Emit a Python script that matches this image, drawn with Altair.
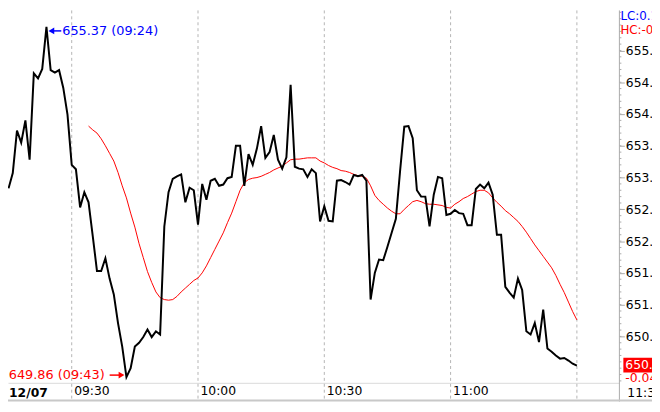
import altair as alt
import pandas as pd

# ---------------- data ----------------
# 1-minute closes from 09:15 to 11:30 on 12/07
price = [652.83, 653.07, 653.74, 653.55, 653.90, 653.28, 654.64, 654.56, 654.71, 655.37,
         654.69, 654.65, 654.69, 654.41, 653.99, 653.20, 653.13, 652.53, 652.77, 652.61,
         652.08, 651.53, 651.53, 651.73, 651.41, 651.16, 650.71, 650.34, 649.86, 650.00,
         650.34, 650.40, 650.49, 650.61, 650.49, 650.58, 650.53, 652.23, 652.77, 652.98,
         653.02, 653.05, 652.61, 652.84, 652.80, 652.26, 652.90, 652.65, 652.95, 652.98,
         652.87, 652.89, 652.99, 653.01, 653.50, 653.50, 652.87, 653.37, 653.20, 653.46,
         653.81, 653.31, 653.40, 653.67, 653.28, 653.14, 653.32, 654.46, 653.17, 653.14,
         653.13, 653.01, 653.13, 653.07, 652.31, 652.55, 652.32, 652.31, 652.95, 652.96,
         652.93, 652.89, 653.04, 653.02, 653.04, 652.95, 651.08, 651.50, 651.71, 651.70,
         651.91, 652.13, 652.35, 653.10, 653.80, 653.81, 653.62, 652.80, 652.70, 652.70,
         652.23, 652.73, 653.01, 652.99, 652.41, 652.43, 652.49, 652.44, 652.43, 652.25,
         652.25, 652.82, 652.89, 652.83, 652.92, 652.73, 652.10, 652.10, 651.28, 651.19,
         651.11, 651.41, 651.23, 650.58, 650.53, 650.71, 650.41, 650.92, 650.31, 650.26,
         650.20, 650.15, 650.16, 650.12, 650.07, 650.04]
price_start = "2023-12-07 09:15"

# red moving-average line, 09:34 to 11:30
ma = [653.81, 653.75, 653.70, 653.61, 653.50, 653.38, 653.26, 653.08, 652.87, 652.68,
      652.44, 652.22, 651.96, 651.74, 651.52, 651.35, 651.20, 651.11, 651.08, 651.07,
      651.08, 651.13, 651.20, 651.26, 651.32, 651.38, 651.42, 651.50, 651.61, 651.74,
      651.87, 652.00, 652.13, 652.29, 652.44, 652.62, 652.80, 652.92, 652.97, 652.99,
      653.00, 653.02, 653.05, 653.08, 653.12, 653.15, 653.18, 653.23, 653.28, 653.29,
      653.29, 653.30, 653.31, 653.31, 653.31, 653.26, 653.23, 653.19, 653.16, 653.14,
      653.11, 653.10, 653.08, 653.05, 653.03, 653.02, 652.99, 652.87, 652.72, 652.64,
      652.58, 652.52, 652.47, 652.43, 652.43, 652.50, 652.56, 652.62, 652.64, 652.62,
      652.59, 652.58, 652.58, 652.57, 652.56, 652.53, 652.52, 652.58, 652.62, 652.67,
      652.70, 652.74, 652.78, 652.80, 652.80, 652.76, 652.68, 652.61, 652.55, 652.48,
      652.43, 652.37, 652.31, 652.23, 652.14, 652.04, 651.94, 651.85, 651.76, 651.67,
      651.58, 651.46, 651.32, 651.19, 651.04, 650.89, 650.76]
ma_start = "2023-12-07 09:34"

grid_times = ["2023-12-07 09:30", "2023-12-07 10:00", "2023-12-07 10:30",
              "2023-12-07 11:00", "2023-12-07 11:30"]
x_label_times = [(9, 30), (10, 0), (10, 30), (11, 0)]
y_tick_values = [650.5, 651.0, 651.5, 652.0, 652.5, 653.0, 653.5, 654.0, 654.5, 655.0]
y_minor_values = [round(649.8 + 0.1 * i, 1) for i in range(59)]

high_time, high_price, high_label = "2023-12-07 09:24", 655.37, "655.37 (09:24)"
low_time, low_price, low_label = "2023-12-07 09:43", 649.86, "649.86 (09:43)"
last_price, last_label, last_change = 650.04, "650.04", "-0.04"
lc_text, hc_text = "LC:0.18", "HC:-0.01"
date_text, last_time_text = "12/07", "11:30"

# ---------------- layout ----------------
FONT = "DejaVu Sans"
BLUE = "#0000ff"
RED = "#ff0000"
W_PLOT, H_PLOT = 619, 377
STRIP_R, STRIP_B = 33, 19
W_TOT, H_TOT = W_PLOT + STRIP_R, H_PLOT + STRIP_B


def dt(h, m, s=0):
    return alt.DateTime(year=2023, month=12, date=7, hours=h, minutes=m, seconds=s)


df_price = pd.DataFrame({"t": pd.date_range(price_start, periods=len(price), freq="min"), "p": price})
df_ma = pd.DataFrame({"t": pd.date_range(ma_start, periods=len(ma), freq="min"), "p": ma})
df_grid = pd.DataFrame({"t": pd.to_datetime(grid_times)})
df_minor = pd.DataFrame({"p": y_minor_values})
df_hi = pd.DataFrame({"t": [pd.Timestamp(high_time)], "p": [high_price], "label": [high_label]})
df_lo = pd.DataFrame({"t": [pd.Timestamp(low_time)], "p": [low_price], "label": [low_label]})
df_last = pd.DataFrame({"p": [last_price], "label": [last_label], "chg": [last_change]})
df_one = pd.DataFrame({"a": [0]})

xs = alt.Scale(domain=[dt(9, 14, 52), dt(11, 40, 6)], nice=False)
ys = alt.Scale(domain=[649.77, 655.63], nice=False, zero=False)

xaxis = alt.Axis(title=None, values=[dt(h, m) for h, m in x_label_times], format="%H:%M",
                 labelAlign="left", labelOffset=2, labelPadding=2, ticks=False,
                 domain=True, domainColor="#d8d8d8", domainWidth=1, grid=False,
                 labelFont=FONT, labelFontSize=12.5, labelColor="black",
                 labelFlush=False, labelOverlap=False)
yaxis = alt.Axis(title=None, orient="right", values=y_tick_values, format=".2f",
                 tickSize=5, tickColor="#aaaaaa", domain=False, grid=False,
                 labelPadding=1, labelFont=FONT, labelFontSize=12.5, labelColor="black",
                 labelOverlap=False)

X = alt.X("t:T", scale=xs, axis=xaxis)
Y = alt.Y("p:Q", scale=ys, axis=yaxis)

grid = alt.Chart(df_grid).mark_rule(color="#b4b4b4", strokeDash=[3, 3], strokeWidth=1).encode(
    x=X, y=alt.value(0), y2=alt.value(H_TOT))

ma_line = alt.Chart(df_ma).mark_line(color=RED, strokeWidth=1).encode(x=X, y=Y)
price_line = alt.Chart(df_price).mark_line(color="black", strokeWidth=2).encode(x=X, y=Y)

hi_text = alt.Chart(df_hi).mark_text(align="left", baseline="middle", dx=16, dy=4, color=BLUE,
                                     font=FONT, fontSize=13).encode(x=X, y=Y, text="label:N")
hi_shaft = alt.Chart(df_hi).mark_rule(color=BLUE, strokeWidth=1.5, xOffset=4, x2Offset=15,
                                      yOffset=4).encode(x=X, x2=alt.X2("t:T"), y=Y)
hi_head = alt.Chart(df_hi).mark_point(shape="triangle-left", size=45, filled=True, color=BLUE,
                                      opacity=1, xOffset=5, yOffset=4).encode(x=X, y=Y)

lo_text = alt.Chart(df_lo).mark_text(align="right", baseline="middle", dx=-22, dy=-2, color=RED,
                                     font=FONT, fontSize=13).encode(x=X, y=Y, text="label:N")
lo_shaft = alt.Chart(df_lo).mark_rule(color=RED, strokeWidth=1.5, xOffset=-17, x2Offset=-5,
                                      yOffset=-2).encode(x=X, x2=alt.X2("t:T"), y=Y)
lo_head = alt.Chart(df_lo).mark_point(shape="triangle-right", size=45, filled=True, color=RED,
                                      opacity=1, xOffset=-5, yOffset=-2).encode(x=X, y=Y)

minor = alt.Chart(df_minor).mark_rule(color="#aaaaaa", strokeWidth=1).encode(
    y=Y, x=alt.value(W_PLOT), x2=alt.value(W_PLOT + 2))
axis_line = alt.Chart(df_one).mark_rule(color="#aaaaaa", strokeWidth=1).encode(
    x=alt.value(W_PLOT), y=alt.value(0), y2=alt.value(H_TOT))
bottom_line = alt.Chart(df_one).mark_rule(color="#c8c8c8", strokeWidth=2).encode(
    x=alt.value(0), x2=alt.value(W_TOT), y=alt.value(H_TOT - 1))

lc = alt.Chart(df_one).mark_text(align="left", baseline="middle", color=BLUE, font=FONT,
                                 fontSize=12).encode(x=alt.value(W_PLOT + 1), y=alt.value(6),
                                                     text=alt.value(lc_text))
hc = alt.Chart(df_one).mark_text(align="left", baseline="middle", color=RED, font=FONT,
                                 fontSize=12).encode(x=alt.value(W_PLOT + 1), y=alt.value(20),
                                                     text=alt.value(hc_text))

box = alt.Chart(df_last).mark_rect(color=RED, yOffset=-8, y2Offset=7).encode(
    y=Y, y2=alt.Y2("p:Q"), x=alt.value(W_PLOT + 4), x2=alt.value(W_TOT + 20))
box_text = alt.Chart(df_last).mark_text(align="left", baseline="middle", color="white", dy=-1,
                                        font=FONT, fontSize=12.5).encode(
    y=Y, x=alt.value(W_PLOT + 6), text="label:N")
chg_text = alt.Chart(df_last).mark_text(align="left", baseline="middle", color=RED, dy=13,
                                        font=FONT, fontSize=12.5).encode(
    y=Y, x=alt.value(W_PLOT + 6), text="chg:N")

date_lbl = alt.Chart(df_one).mark_text(align="left", baseline="middle", color="black", font=FONT,
                                       fontSize=12.5, fontWeight="bold").encode(
    x=alt.value(1), y=alt.value(H_PLOT + 10), text=alt.value(date_text))
time_lbl = alt.Chart(df_one).mark_text(align="left", baseline="middle", color="black", font=FONT,
                                       fontSize=12.5).encode(
    x=alt.value(W_PLOT + 8), y=alt.value(H_PLOT + 10), text=alt.value(last_time_text))

chart = alt.layer(
    grid, ma_line, price_line,
    hi_shaft, hi_head, hi_text,
    lo_shaft, lo_head, lo_text,
    minor, axis_line, bottom_line,
    lc, hc, box, box_text, chg_text, date_lbl, time_lbl,
).properties(
    width=W_PLOT, height=H_PLOT,
    autosize=alt.AutoSizeParams(type="none"),
    padding={"left": 0, "top": 0, "right": STRIP_R, "bottom": STRIP_B},
    background="white",
).configure_view(strokeWidth=0)

chart.save("out.html", embed_options={"renderer": "svg", "actions": False})
